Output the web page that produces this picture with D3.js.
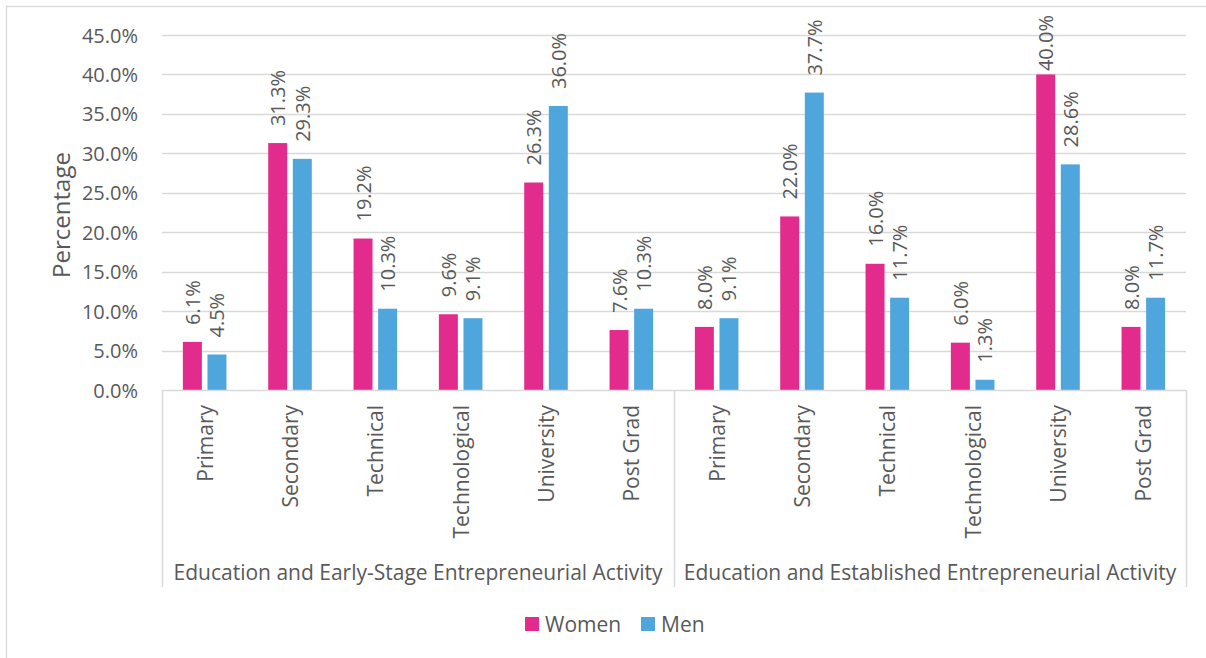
<!DOCTYPE html>
<html>
<head>
<meta charset="utf-8">
<script src="https://cdn.jsdelivr.net/npm/d3@7"></script>
<style>
  html, body { margin: 0; padding: 0; background: #fff; }
  svg { display: block; font-family: "Open Sans", "Noto Sans", sans-serif; }
</style>
</head>
<body>
<svg id="chart" width="1206" height="658"></svg>
<script>
const groups = ["Education and Early-Stage Entrepreneurial Activity", "Education and Established Entrepreneurial Activity"];
const levels = ["Primary", "Secondary", "Technical", "Technological", "University", "Post Grad"];
const series = ["Women", "Men"];
const womenEarly = [6.1, 31.3, 19.2, 9.6, 26.3, 7.6];
const menEarly = [4.5, 29.3, 10.3, 9.1, 36.0, 10.3];
const womenEstablished = [8.0, 22.0, 16.0, 6.0, 40.0, 8.0];
const menEstablished = [9.1, 37.7, 11.7, 1.3, 28.6, 11.7];
const yTicks = [0, 5, 10, 15, 20, 25, 30, 35, 40, 45];
const colors = { Women: "#e32b8e", Men: "#4fa6dc" };

(function () {
const rows = [];
groups.forEach((g, gi) => {
  const w = gi === 0 ? womenEarly : womenEstablished;
  const m = gi === 0 ? menEarly : menEstablished;
  levels.forEach((lv, li) => {
    rows.push({ key: gi + "|" + lv, group: g, gi, level: lv, Women: w[li], Men: m[li] });
  });
});

const svg = d3.select("#chart");
const textColor = "#595959";
const gridColor = "#d9d9d9";
const pLeft = 162, pRight = 1186, pTop = 35, pBottom = 390;

// outer border
svg.append("rect").attr("x", 6.5).attr("y", 6.5).attr("width", 1205).attr("height", 660)
  .attr("fill", "none").attr("stroke", gridColor).attr("stroke-width", 1.3);

const y = d3.scaleLinear().domain([0, 45]).range([pBottom, pTop]);
const x0 = d3.scaleBand().domain(rows.map(d => d.key)).range([pLeft, pRight]).padding(0);
const x1 = d3.scaleBand().domain(series).range([0, x0.bandwidth()]).paddingInner(0.228).paddingOuter(0.849);
const xg = d3.scaleBand().domain(groups).range([pLeft, pRight]).padding(0);

// gridlines
svg.append("g").selectAll("line").data(yTicks.filter(t => t > 0)).join("line")
  .attr("x1", pLeft).attr("x2", pRight)
  .attr("y1", d => Math.round(y(d)) + 0.5).attr("y2", d => Math.round(y(d)) + 0.5)
  .attr("stroke", gridColor).attr("stroke-width", 1.5);

// y tick labels
svg.append("g").selectAll("text").data(yTicks).join("text")
  .attr("x", 138).attr("y", d => y(d)).attr("text-anchor", "end")
  .attr("dominant-baseline", "central").attr("fill", textColor).attr("font-size", 20)
  .text(d => d.toFixed(1) + "%");

// y title
svg.append("text").attr("transform", "translate(60,215) rotate(-90)")
  .attr("text-anchor", "middle").attr("dominant-baseline", "central")
  .attr("fill", textColor).attr("font-size", 24).text("Percentage");

// bars
const cat = svg.append("g").selectAll("g").data(rows).join("g")
  .attr("transform", d => "translate(" + x0(d.key) + ",0)");
cat.selectAll("rect").data(d => series.map(s => ({ s, v: d[s] }))).join("rect")
  .attr("x", d => x1(d.s)).attr("width", x1.bandwidth())
  .attr("y", d => y(d.v)).attr("height", d => pBottom - y(d.v))
  .attr("fill", d => colors[d.s]);

// data labels
cat.selectAll("text").data(d => series.map(s => ({ s, v: d[s] }))).join("text")
  .attr("text-anchor", "start").attr("dominant-baseline", "central")
  .attr("fill", textColor).attr("font-size", 20)
  .text(d => d.v.toFixed(1) + "%")
  .each(function (d) {
    const len = this.getComputedTextLength();
    const yy = Math.max(y(d.v) - 17, 15 + len);
    const cx = x1(d.s) + x1.bandwidth() / 2;
    d3.select(this).attr("transform", "translate(" + cx + "," + yy + ") rotate(-90)");
  });

// axis line and dividers
svg.append("line").attr("x1", pLeft).attr("x2", pRight).attr("y1", pBottom + 0.5).attr("y2", pBottom + 0.5)
  .attr("stroke", gridColor).attr("stroke-width", 1.5);
const dividers = [pLeft, xg(groups[1]), pRight];
svg.append("g").selectAll("line").data(dividers).join("line")
  .attr("x1", d => d + 0.5).attr("x2", d => d + 0.5).attr("y1", pBottom).attr("y2", 587)
  .attr("stroke", gridColor).attr("stroke-width", 1.5);

// category labels
svg.append("g").selectAll("text").data(rows).join("text")
  .attr("transform", d => "translate(" + (x0(d.key) + x0.bandwidth() / 2) + ",405) rotate(-90)")
  .attr("text-anchor", "end").attr("dominant-baseline", "central")
  .attr("fill", textColor).attr("font-size", 21).text(d => d.level);

// group labels
svg.append("g").selectAll("text").data(groups).join("text")
  .attr("x", d => xg(d) + xg.bandwidth() / 2).attr("y", 572)
  .attr("text-anchor", "middle").attr("dominant-baseline", "central")
  .attr("fill", textColor).attr("font-size", 21).text(d => d);

// legend
const legendX = { Women: 525, Men: 641 };
const lg = svg.append("g").selectAll("g").data(series).join("g")
  .attr("transform", d => "translate(" + legendX[d] + ",617)");
lg.append("rect").attr("width", 14).attr("height", 14).attr("fill", d => colors[d]);
lg.append("text").attr("x", 20).attr("y", 7).attr("dominant-baseline", "central")
  .attr("fill", textColor).attr("font-size", 21).text(d => d);
})();
</script>
</body>
</html>
